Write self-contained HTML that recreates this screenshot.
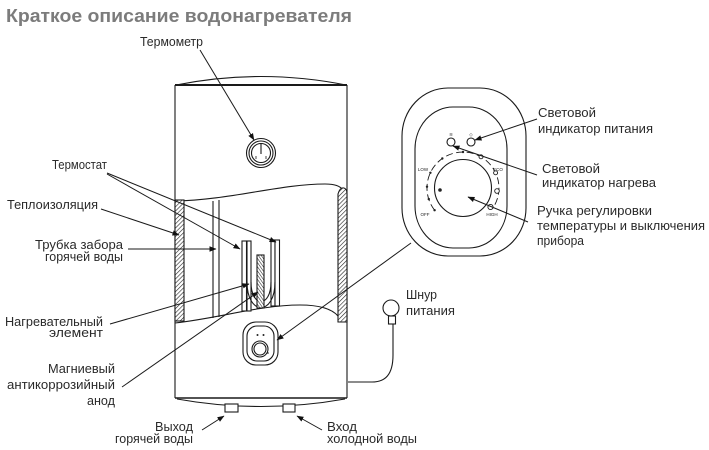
<!DOCTYPE html>
<html><head><meta charset="utf-8"><style>
html,body{margin:0;padding:0;background:#fff;}
svg{display:block;}
text{font-family:"Liberation Sans","DejaVu Sans",sans-serif;}
</style></head><body>
<svg width="709" height="450" viewBox="0 0 709 450" xmlns="http://www.w3.org/2000/svg">
<defs>
<pattern id="h" width="3" height="3" patternUnits="userSpaceOnUse" patternTransform="rotate(45)">
<rect width="3" height="3" fill="#fff"/><line x1="0" y1="0" x2="0" y2="3" stroke="#222" stroke-width="1.2"/></pattern>
<pattern id="h2" width="2.4" height="2.4" patternUnits="userSpaceOnUse" patternTransform="rotate(-35)">
<rect width="3" height="3" fill="#fff"/><line x1="0" y1="0" x2="0" y2="3" stroke="#222" stroke-width="1.1"/></pattern>
<marker id="a" markerUnits="userSpaceOnUse" markerWidth="7" markerHeight="6" refX="6.5" refY="3" orient="auto">
<path d="M0,0.3 L7,3 L0,5.7 z" fill="#111"/></marker>
</defs>

<!-- title -->
<text x="6" y="22" font-size="18" font-weight="bold" fill="#7c7c7c" textLength="346" lengthAdjust="spacingAndGlyphs">Краткое описание водонагревателя</text>

<g fill="none" stroke="#1a1a1a" stroke-width="1.1">
<!-- body -->
<path d="M176,85 Q261,68 346,85" />
<line x1="175" y1="85" x2="347" y2="85" stroke-width="2"/>
<line x1="175" y1="85" x2="175" y2="398"/>
<line x1="347" y1="85" x2="347" y2="398"/>
<line x1="175" y1="398" x2="347" y2="398" stroke-width="1.4"/>
<path d="M177,399 Q261,414 345,399"/>
<rect x="225" y="404" width="13" height="8" fill="#fff"/>
<rect x="283" y="404" width="12" height="8" fill="#fff"/>

<!-- cutaway -->
<path d="M175,201 C230,200 280,184 325,184 C335,184 340,186 343,190"/>
<path d="M175,323 C220,318 260,305 300,305 C320,305 332,309 338,316"/>
<rect x="175" y="200" width="9" height="121" fill="url(#h)"/>
<path d="M338,322 L338,194 Q340,187 344,188 Q347,189 347,194 L347,322 Z" fill="url(#h)"/>
<line x1="213" y1="201" x2="213" y2="318"/>
<line x1="219" y1="200" x2="219" y2="317"/>
<rect x="242" y="241" width="4.5" height="70" fill="#fff"/>
<rect x="247" y="241" width="4" height="70" fill="#fff"/>
<rect x="271" y="240" width="4" height="66" fill="#fff"/>
<rect x="275" y="240" width="4.5" height="66" fill="#fff"/>
<path d="M247,282 C247,316 275,316 275,282"/>
<path d="M251,282 C251,308 271,308 271,282"/>
<rect x="257" y="255" width="7" height="53" fill="url(#h2)"/>

<!-- thermometer -->
<circle cx="261" cy="153" r="14.5"/>
<circle cx="261" cy="153" r="12"/>
<circle cx="261" cy="153" r="9.5"/>
<line x1="261" y1="144" x2="261" y2="154"/>
<line x1="256" y1="156" x2="256" y2="159" stroke-width="0.8"/>
<line x1="266" y1="156" x2="266" y2="159" stroke-width="0.8"/>

<!-- small panel -->
<rect x="243" y="322" width="35" height="43" rx="13"/>
<rect x="247" y="326" width="27" height="35" rx="10"/>
<circle cx="260" cy="349" r="8"/>
<circle cx="260" cy="349" r="6"/>
</g>
<circle cx="257.5" cy="335" r="1" fill="#222"/>
<circle cx="263.5" cy="335" r="1" fill="#222"/>
<circle cx="268" cy="353" r="0.8" fill="#222"/>

<!-- cord -->
<g fill="none" stroke="#1a1a1a" stroke-width="1.1">
<circle cx="391" cy="308" r="8"/>
<rect x="388.5" y="316" width="7" height="8" fill="#fff"/>
<path d="M393,324 L393,355 C393,375 385,382 372,382 L348,382"/>
</g>

<!-- big control panel -->
<g fill="none" stroke="#1a1a1a" stroke-width="1.1">
<rect x="402" y="88" width="124" height="168" rx="46" ry="48"/>
<rect x="415" y="107" width="92" height="141" rx="38" ry="42"/>
<circle cx="463" cy="188" r="28.5"/>
<path d="M434.6,210.2 A36,36 0 1 1 492.5,208.6" stroke-dasharray="7 3.5" stroke-width="0.9"/>
<circle cx="451" cy="142" r="4"/>
<circle cx="471" cy="142" r="4"/>
<circle cx="481" cy="156.8" r="2" fill="#fff" stroke-width="0.9"/>
<circle cx="495.6" cy="172.8" r="2" fill="#fff" stroke-width="0.9"/>
<circle cx="497" cy="191" r="2.3" fill="#fff" stroke-width="0.9"/>
<circle cx="490.5" cy="207" r="2.6" fill="#fff" stroke-width="0.9"/>
</g>
<g fill="#222">
<circle cx="463" cy="152" r="1.2"/>
<circle cx="442.3" cy="158.5" r="1.2"/>
<circle cx="430.4" cy="172.8" r="1.2"/>
<circle cx="427" cy="186.7" r="1.2"/>
<circle cx="428.8" cy="199.1" r="1.2"/>
<circle cx="434.6" cy="210.2" r="1.2"/>
<circle cx="440" cy="190" r="1.8"/>
</g>
<g font-size="4.5" fill="#222" text-anchor="middle">
<text x="423" y="171">LOW</text>
<text x="498" y="171">ECO</text>
<text x="425" y="216">OFF</text>
<text x="492" y="216">HIGH</text>
<text x="451" y="136">≋</text>
<text x="471" y="136">◇</text>
</g>

<!-- leader lines -->
<g stroke="#1a1a1a" stroke-width="1" fill="none" marker-end="url(#a)">
<line x1="200" y1="50" x2="254" y2="140"/>
<line x1="107" y1="173" x2="276" y2="242"/>
<line x1="107" y1="174" x2="240" y2="249"/>
<line x1="101" y1="209" x2="179" y2="235"/>
<line x1="128" y1="249" x2="216" y2="249"/>
<line x1="110" y1="324" x2="249" y2="284"/>
<line x1="122" y1="387" x2="258" y2="292"/>
<line x1="528" y1="222" x2="468" y2="197"/>
<line x1="537" y1="119" x2="475" y2="140"/>
<line x1="537" y1="175" x2="453" y2="146"/>
<line x1="411" y1="243" x2="277" y2="340"/>
<line x1="202" y1="430" x2="224" y2="416"/>
<line x1="322" y1="430" x2="297" y2="416"/>
</g>

<!-- labels -->
<g font-size="13" fill="#2a2a2a">
<text x="140" y="46" textLength="63" lengthAdjust="spacingAndGlyphs">Термометр</text>
<text x="52" y="169" textLength="55" lengthAdjust="spacingAndGlyphs">Термостат</text>
<text x="7" y="209" textLength="91" lengthAdjust="spacingAndGlyphs">Теплоизоляция</text>
<text x="35" y="249" textLength="88" lengthAdjust="spacingAndGlyphs">Трубка забора</text>
<text x="45" y="261" textLength="78" lengthAdjust="spacingAndGlyphs">горячей воды</text>
<text x="5" y="326" textLength="98" lengthAdjust="spacingAndGlyphs">Нагревательный</text>
<text x="49" y="337" textLength="54" lengthAdjust="spacingAndGlyphs">элемент</text>
<text x="48" y="373" textLength="67" lengthAdjust="spacingAndGlyphs">Магниевый</text>
<text x="7" y="389" textLength="108" lengthAdjust="spacingAndGlyphs">антикоррозийный</text>
<text x="87" y="405" textLength="28" lengthAdjust="spacingAndGlyphs">анод</text>
<text x="155" y="431" textLength="38" lengthAdjust="spacingAndGlyphs">Выход</text>
<text x="115" y="443" textLength="78" lengthAdjust="spacingAndGlyphs">горячей воды</text>
<text x="327" y="431" textLength="30" lengthAdjust="spacingAndGlyphs">Вход</text>
<text x="327" y="443" textLength="90" lengthAdjust="spacingAndGlyphs">холодной воды</text>
<text x="406" y="299" textLength="31" lengthAdjust="spacingAndGlyphs">Шнур</text>
<text x="406" y="315" textLength="49" lengthAdjust="spacingAndGlyphs">питания</text>
<text x="538" y="117" textLength="58" lengthAdjust="spacingAndGlyphs">Световой</text>
<text x="538" y="133" textLength="115" lengthAdjust="spacingAndGlyphs">индикатор питания</text>
<text x="542" y="173" textLength="58" lengthAdjust="spacingAndGlyphs">Световой</text>
<text x="542" y="187" textLength="114" lengthAdjust="spacingAndGlyphs">индикатор нагрева</text>
<text x="537" y="215" textLength="115" lengthAdjust="spacingAndGlyphs">Ручка регулировки</text>
<text x="537" y="230" textLength="168" lengthAdjust="spacingAndGlyphs">температуры и выключения</text>
<text x="537" y="245" textLength="47" lengthAdjust="spacingAndGlyphs">прибора</text>
</g>
</svg>
</body></html>
